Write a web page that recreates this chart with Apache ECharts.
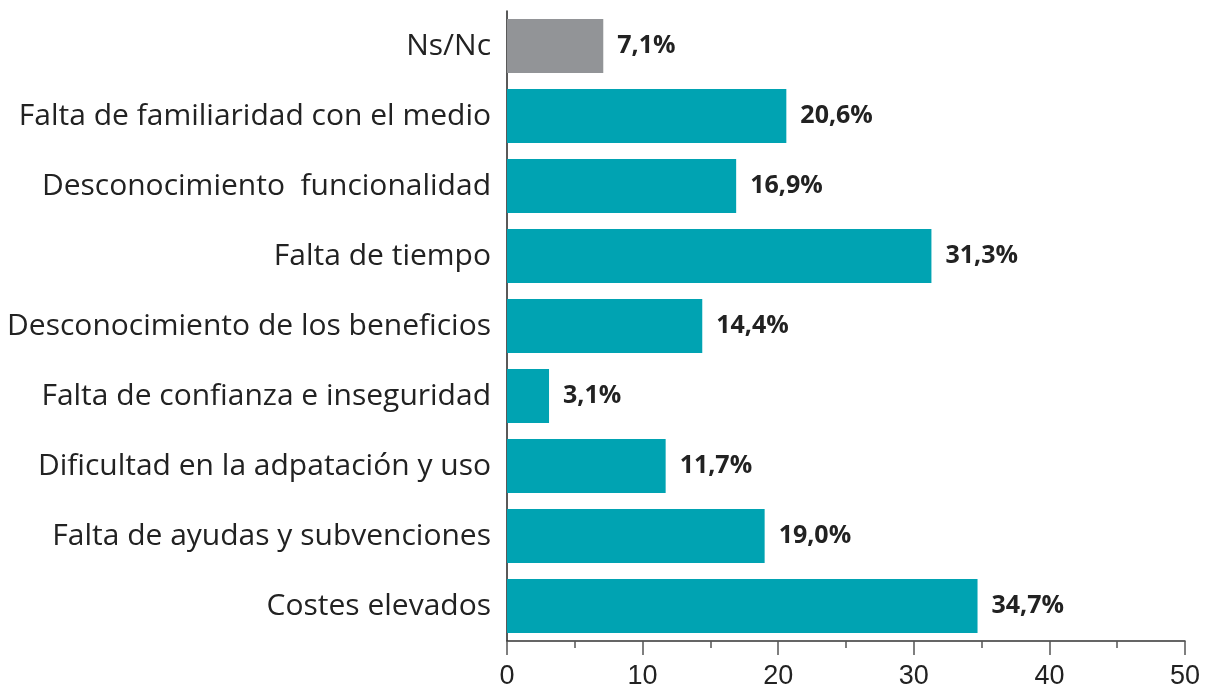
<!DOCTYPE html>
<html><head><meta charset="utf-8">
<script src="https://cdn.jsdelivr.net/npm/echarts@6/dist/echarts.min.js"></script>
<style>html,body{margin:0;padding:0;background:#fff}#c{width:1206px;height:690px}</style>
</head><body><div id="c"></div>
<script>
const categories = ["Ns/Nc","Falta de familiaridad con el medio","Desconocimiento  funcionalidad","Falta de tiempo","Desconocimiento de los beneficios","Falta de confianza e inseguridad","Dificultad en la adpatación y uso","Falta de ayudas y subvenciones","Costes elevados"];
const values = [7.1, 20.6, 16.9, 31.3, 14.4, 3.1, 11.7, 19.0, 34.7];
const barColors = ["#929497","#00A3B2","#00A3B2","#00A3B2","#00A3B2","#00A3B2","#00A3B2","#00A3B2","#00A3B2"];
const xTicks = [0, 10, 20, 30, 40, 50];

const chart = echarts.init(document.getElementById('c'));
chart.setOption({
  animation: false,
  grid: {left: 507, right: 21, top: 11, bottom: 49, containLabel: false},
  xAxis: {
    type: 'value', min: xTicks[0], max: xTicks[xTicks.length-1], interval: 10,
    axisLine: {show: true, lineStyle: {color: '#333', width: 1.5}},
    axisTick: {show: true, inside: false, length: 14, lineStyle: {color: '#555', width: 1.5}},
    minorTick: {show: true, splitNumber: 2, length: 7, lineStyle: {color: '#555', width: 1.5}},
    splitLine: {show: false},
    axisLabel: {fontFamily: '"Liberation Sans Narrow", "Liberation Sans"', fontSize: 27, color: '#222', margin: 22}
  },
  yAxis: {
    type: 'category', data: categories, inverse: true,
    axisLine: {show: true, lineStyle: {color: '#222', width: 1.5}},
    axisTick: {show: false},
    axisLabel: {fontFamily: '"Open Sans"', fontSize: 30, color: '#222', margin: 16}
  },
  series: [{
    type: 'bar',
    data: values.map((v, i) => ({value: v, itemStyle: {color: barColors[i]}})),
    barCategoryGap: '23%',
    label: {
      show: true, position: 'right', distance: 14,
      fontFamily: '"Open Sans"', fontWeight: 'bold', fontSize: 25, color: '#222',
      formatter: p => p.value.toFixed(1).replace('.', ',') + '%'
    }
  }]
});
</script></body></html>
